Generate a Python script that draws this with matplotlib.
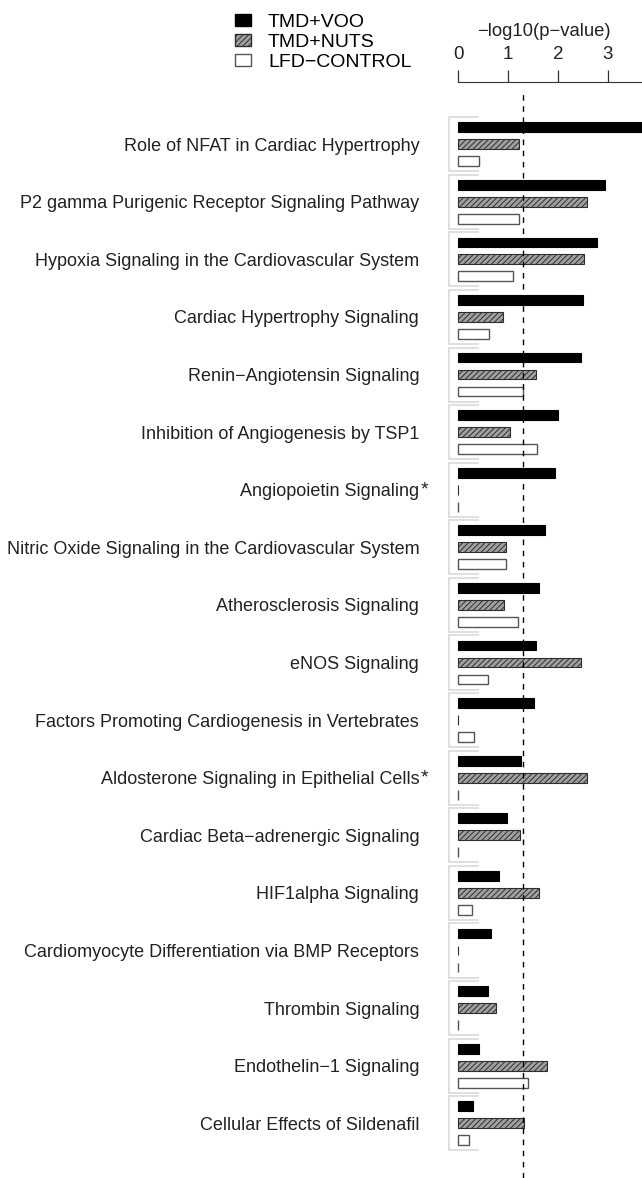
import numpy as np
import matplotlib.pyplot as plt
from matplotlib.patches import Patch

plt.rcParams['font.family'] = ['Liberation Sans', 'DejaVu Sans']
plt.rcParams['hatch.linewidth'] = 0.7

# pathways, top to bottom
pathways = [
    "Role of NFAT in Cardiac Hypertrophy",
    "P2 gamma Purigenic Receptor Signaling Pathway",
    "Hypoxia Signaling in the Cardiovascular System",
    "Cardiac Hypertrophy Signaling",
    "Renin\u2212Angiotensin Signaling",
    "Inhibition of Angiogenesis by TSP1",
    "Angiopoietin Signaling",
    "Nitric Oxide Signaling in the Cardiovascular System",
    "Atherosclerosis Signaling",
    "eNOS Signaling",
    "Factors Promoting Cardiogenesis in Vertebrates",
    "Aldosterone Signaling in Epithelial Cells",
    "Cardiac Beta\u2212adrenergic Signaling",
    "HIF1alpha Signaling",
    "Cardiomyocyte Differentiation via BMP Receptors",
    "Thrombin Signaling",
    "Endothelin\u22121 Signaling",
    "Cellular Effects of Sildenafil",
]
starred = ["Angiopoietin Signaling", "Aldosterone Signaling in Epithelial Cells"]

# -log10(p-value) per group
voo = [3.9, 2.93, 2.78, 2.50, 2.45, 2.00, 1.93, 1.74, 1.62, 1.55, 1.51, 1.26,
       0.97, 0.81, 0.66, 0.60, 0.41, 0.30]
nuts = [1.22, 2.58, 2.51, 0.89, 1.56, 1.03, 0.0, 0.96, 0.92, 2.45, 0.0, 2.58,
        1.23, 1.61, 0.0, 0.76, 1.77, 1.31]
control = [0.41, 1.21, 1.09, 0.62, 1.30, 1.57, 0.0, 0.96, 1.19, 0.59, 0.31, 0.0,
           0.0, 0.27, 0.0, 0.0, 1.39, 0.21]

xticks = [0, 1, 2, 3]
cutoff = 1.3  # -log10(0.05)

W, H = 642, 1178
fig = plt.figure(figsize=(W / 100, H / 100), dpi=100)
ax = fig.add_axes([440 / W, 0, 1 - 440 / W, (H - 82) / H])

y = np.arange(len(pathways))
off = 0.295
h = 0.17
hatch_face = '#a0a0a0'
hatch_edge = '#2e2e2e'

ax.barh(y - off, voo, height=h, color='black', edgecolor='black', lw=0.8)
ax.barh(y, nuts, height=h, color=hatch_face, edgecolor=hatch_edge, lw=0.8, hatch='//////')
ax.barh(y + off, control, height=h, color='white', edgecolor='#555555', lw=1.0)

# grey brackets around each group
for g in y:
    top, bot = g - 0.47, g + 0.47
    ax.plot([0.39, -0.18, -0.18, 0.39], [top, top, bot, bot], color='#dcdcdc', lw=1.3,
            solid_joinstyle='miter')

ax.axvline(cutoff, color='black', ls=(0, (4, 4)), lw=1.0, ymin=0, ymax=0.994)

ax.set_xlim(-0.36, 3.68)
ax.set_ylim(len(pathways) - 0.05, -1.08)

ax.set_yticks(y)
ax.set_yticklabels(pathways, fontsize=13, color='#222222')
ax.tick_params(axis='y', length=0, pad=15)

ax.xaxis.tick_top()
ax.set_xticks(xticks)
ax.set_xticklabels([str(t) for t in xticks], fontsize=13.5, color='#222222')
ax.tick_params(axis='x', direction='out', length=9, width=0.9, pad=4.5, color='#333333')
for s in ['left', 'right', 'bottom']:
    ax.spines[s].set_visible(False)
ax.spines['top'].set_bounds(0, 3.68)
ax.spines['top'].set_color('#333333')

fig.text(544 / W, 1 - 32 / H, "\u2212log10(p\u2212value)", ha='center', va='center',
         fontsize=13.3, color='#222222')

handles = [Patch(facecolor='black', edgecolor='black'),
           Patch(facecolor=hatch_face, edgecolor=hatch_edge, hatch='//////'),
           Patch(facecolor='white', edgecolor='#555555')]
fig.legend(handles, ["TMD+VOO", "TMD+NUTS", "LFD\u2212CONTROL"], loc='upper left',
           bbox_to_anchor=(235 / W, 1 - 14 / H), frameon=False, fontsize=14,
           borderpad=0, borderaxespad=0,
           handlelength=0.8, handleheight=0.55, handletextpad=0.9, labelspacing=0.15)

# asterisks after the starred labels
fig.canvas.draw()
r = fig.canvas.get_renderer()
for lab in ax.get_yticklabels():
    if lab.get_text() in starred:
        bb = lab.get_window_extent(r)
        fig.text(bb.x1 / W + 1 / W, bb.y1 / H + 2 / H, "*", ha='left', va='top',
                 fontsize=14, color='#222222')

fig.savefig('out.png', dpi=100)
